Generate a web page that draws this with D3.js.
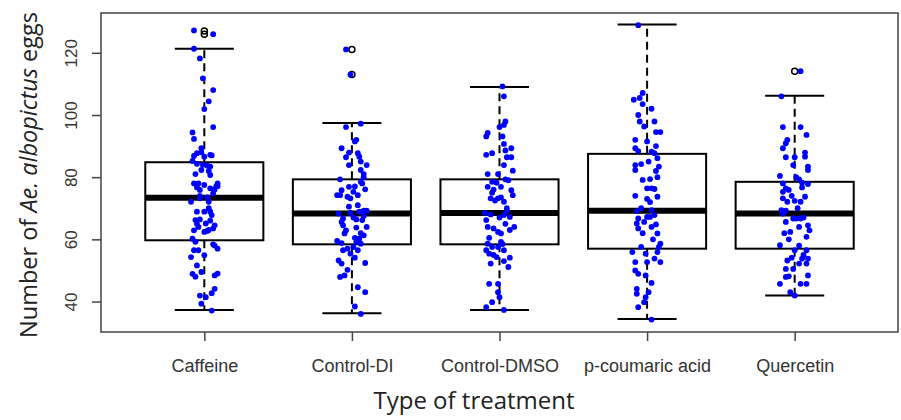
<!DOCTYPE html>
<html>
<head>
<meta charset="utf-8">
<script src="https://cdn.jsdelivr.net/npm/d3@7"></script>
<style>
  body { margin: 0; background: #fff; }
</style>
</head>
<body>
<div id="chart-container"></div>
<script>
// categories and box statistics
const categories = ["Caffeine", "Control-DI", "Control-DMSO", "p-coumaric acid", "Quercetin"];
const lowWhisker = [37.3, 36.2, 37.3, 34.4, 41.9];
const q1 = [59.7, 58.4, 58.4, 57.0, 57.0];
const medians = [73.4, 68.3, 68.5, 69.2, 68.3];
const q3 = [84.8, 79.3, 79.3, 87.5, 78.5];
const highWhisker = [121.3, 97.4, 109.0, 129.1, 106.2];
const outliers = [[126.0, 127.0], [113.0, 121.1], [], [], [114.1]];
const yTicks = [40, 60, 80, 100, 120];

// jittered points: [value, jitter offset in category units]
const caffeinePts = [
  [127.2,-0.07],[126.0,0.06],[121.3,-0.07],[118.2,-0.03],[111.8,-0.01],[108.0,0.06],[104.4,0.03],[101.9,0.00],
  [96.1,0.06],[94.4,-0.08],[92.3,-0.07],[89.3,-0.02],[87.7,-0.05],[86.8,-0.07],[86.6,0.00],[87.2,0.04],
  [85.2,-0.08],[84.3,-0.05],[83.7,0.02],[83.4,0.04],[82.3,-0.02],[81.0,-0.06],[80.7,0.04],[78.0,-0.07],
  [78.0,-0.04],[77.5,0.00],[78.0,0.09],[76.7,-0.05],[76.4,0.04],[75.9,-0.03],[77.1,0.09],[74.8,0.06],
  [72.1,-0.09],[73.2,-0.03],[72.1,0.03],[68.9,-0.05],[68.9,0.00],[68.9,0.04],[67.8,0.05],[66.2,-0.06],
  [66.4,-0.03],[65.1,0.01],[64.5,0.07],[62.9,-0.07],[62.4,0.00],[62.7,0.02],[63.5,0.06],[60.2,-0.08],
  [59.2,-0.06],[58.4,0.06],[57.0,0.09],[56.5,-0.07],[56.5,-0.04],[54.3,-0.09],[54.9,0.00],[51.6,-0.05],
  [49.5,-0.02],[48.9,-0.08],[48.4,0.07],[44.1,0.07],[42.7,0.05],[41.9,-0.03],[41.4,0.01],[39.3,-0.02],
  [37.1,0.05],[73.5,0.02],[76.0,0.07],[77.0,0.08],[66.0,0.04],[64.0,-0.04],[63.0,0.03],[48.0,-0.06],
  [49.0,0.09],[58.0,0.07],[82.0,0.03],[88.0,-0.02],[87.0,0.05],[84.0,-0.01],[65.0,-0.05],[70.0,0.03],
  [74.0,-0.03]
];
const controlDIPts = [
  [121.1,-0.04],[113.0,-0.01],[96.1,-0.04],[97.2,0.06],[92.0,0.03],[91.5,0.02],[89.3,-0.07],[87.9,-0.02],
  [87.7,0.04],[86.6,0.05],[86.4,-0.04],[83.9,0.10],[83.9,-0.02],[82.3,0.06],[81.0,0.08],[79.3,-0.08],
  [78.5,0.06],[78.0,0.07],[76.9,-0.02],[76.1,0.09],[75.8,-0.07],[75.3,0.01],[74.2,-0.10],[74.2,-0.08],
  [73.7,-0.03],[74.2,0.04],[73.2,-0.01],[68.3,-0.09],[68.5,-0.01],[68.9,0.05],[69.2,0.08],[69.2,0.10],
  [66.7,-0.06],[67.0,0.01],[66.4,0.03],[66.2,0.07],[65.6,-0.07],[64.0,0.10],[63.8,0.03],[62.9,-0.04],
  [61.9,-0.05],[61.3,0.08],[60.2,0.05],[59.5,-0.10],[58.8,-0.07],[59.2,0.03],[58.6,0.06],[57.5,0.01],
  [56.5,-0.06],[55.4,-0.01],[56.5,0.04],[54.1,0.02],[53.2,-0.09],[52.2,-0.07],[52.4,0.09],[50.2,-0.03],
  [47.9,-0.08],[48.4,-0.05],[44.6,0.04],[43.0,0.09],[38.4,0.02],[36.0,0.06],[70.5,-0.02],[67.5,0.08],
  [64.5,-0.06],[60.5,0.02],[57.0,-0.03],[62.0,0.06],[71.0,0.04],[77.0,0.02],[80.0,0.08],[85.0,0.06]
];
const controlDMSOPts = [
  [109.2,0.02],[106.0,0.03],[97.9,0.04],[96.8,0.03],[96.1,0.00],[94.2,-0.08],[93.1,-0.09],[93.1,0.02],
  [90.7,0.03],[89.3,0.08],[88.6,0.04],[87.2,-0.09],[87.7,-0.05],[86.4,0.05],[86.4,0.08],[83.9,0.03],
  [82.1,0.09],[81.0,-0.08],[81.0,-0.01],[79.3,0.04],[78.5,-0.05],[78.2,-0.02],[76.9,-0.08],[76.9,0.01],
  [75.8,0.08],[75.0,-0.05],[74.2,0.09],[73.2,-0.06],[73.2,-0.01],[73.5,0.01],[72.1,0.03],[69.2,0.05],
  [68.5,-0.10],[67.8,0.03],[67.0,0.00],[67.2,0.07],[66.2,-0.09],[64.0,0.10],[64.0,-0.08],[63.5,-0.04],
  [62.4,-0.01],[61.9,0.01],[59.2,0.01],[58.6,-0.08],[57.5,-0.05],[57.5,-0.01],[56.5,-0.09],[56.5,0.03],
  [55.4,-0.07],[54.3,-0.02],[54.1,0.07],[52.2,-0.06],[53.0,0.03],[51.1,0.06],[45.7,-0.07],[45.7,-0.01],
  [43.0,-0.01],[41.4,0.00],[39.8,-0.05],[38.2,-0.09],[37.3,0.03],[70.0,0.05],[72.5,-0.03],[65.0,0.04],
  [60.5,-0.07],[58.5,0.02],[79.0,0.06],[76.0,-0.04],[68.0,-0.06],[63.0,0.07],[55.0,-0.04]
];
const coumaricPts = [
  [128.9,-0.06],[107.1,-0.03],[104.9,-0.09],[105.5,-0.05],[103.5,-0.03],[102.0,0.03],[97.9,-0.05],[97.9,0.05],
  [96.3,-0.02],[94.5,0.06],[94.5,0.09],[92.0,-0.08],[91.5,0.00],[89.3,-0.08],[88.4,-0.06],[88.2,0.03],
  [87.7,0.05],[86.1,0.07],[83.9,-0.08],[84.2,-0.04],[83.4,0.08],[82.3,-0.08],[82.0,0.06],[79.1,-0.03],
  [79.4,0.02],[76.4,0.00],[76.4,0.03],[76.2,0.05],[74.0,-0.08],[73.0,0.00],[73.7,0.07],[69.4,0.03],
  [69.1,-0.07],[67.2,0.00],[67.2,0.02],[67.8,0.05],[66.7,-0.06],[65.6,-0.02],[64.0,0.03],[65.1,-0.07],
  [63.5,-0.06],[64.8,0.06],[61.9,0.07],[58.6,0.09],[57.6,0.08],[57.6,-0.04],[55.9,-0.10],[55.4,-0.01],
  [53.8,0.05],[52.7,0.09],[52.7,-0.08],[55.9,0.07],[52.7,0.00],[48.9,-0.06],[48.4,-0.01],[44.1,-0.07],
  [43.0,0.01],[42.5,-0.07],[41.4,-0.01],[39.8,-0.02],[38.2,-0.06],[34.2,0.03],[72.0,0.02],[70.0,-0.04],
  [60.0,0.04],[85.0,0.01],[90.0,0.06],[100.0,-0.06],[62.0,-0.03],[80.0,0.07],[46.0,0.03],[50.0,-0.08]
];
const quercetinPts = [
  [114.1,0.04],[106.0,-0.09],[96.1,-0.08],[96.1,0.04],[93.6,0.08],[92.0,-0.05],[90.9,-0.06],[89.3,-0.08],
  [87.9,0.07],[86.6,0.07],[86.4,-0.06],[86.4,0.00],[83.9,-0.01],[83.4,0.09],[82.3,0.09],[80.4,-0.10],
  [79.3,0.03],[78.0,-0.08],[78.2,0.05],[77.8,0.09],[76.4,-0.06],[75.3,-0.08],[75.9,-0.04],[76.7,0.05],
  [73.2,-0.08],[72.1,-0.05],[72.4,0.00],[72.1,0.04],[73.7,0.07],[69.4,-0.09],[69.2,-0.06],[66.7,-0.01],
  [68.3,-0.08],[66.7,0.01],[66.7,0.04],[65.6,-0.06],[64.0,0.03],[62.4,-0.03],[64.5,0.09],[62.9,0.10],
  [60.8,0.08],[58.1,-0.10],[56.5,0.00],[56.5,0.08],[54.1,-0.02],[53.2,-0.05],[52.2,0.03],[53.8,0.05],
  [53.8,0.09],[50.5,-0.06],[50.5,-0.01],[52.2,0.08],[48.1,-0.04],[47.9,-0.06],[48.4,0.09],[45.7,-0.10],
  [45.7,0.04],[45.7,0.08],[43.0,-0.03],[41.9,0.00],[70.0,0.02],[74.0,-0.02],[67.0,0.06],[60.0,-0.04],
  [58.0,0.03],[62.0,-0.07],[80.0,0.01],[55.0,0.06]
];
const pointSets = [caffeinePts, controlDIPts, controlDMSOPts, coumaricPts, quercetinPts];

const drawChart = () => {
  d3.select("#chart-container").selectAll("*").remove();

  const svgWidth = 901;
  const svgHeight = 420;
  const plot = { left: 101, right: 898, top: 13, bottom: 332 };

  // R-style positions: groups at 1..5, limits padded by 4%
  const xScale = d3.scaleLinear().domain([0.3, 5.7]).range([plot.left, plot.right]);
  const yScale = d3.scaleLinear().domain([30.2, 132.8]).range([plot.bottom, plot.top]);

  const svg = d3.select("#chart-container")
    .append("svg")
    .attr("width", svgWidth)
    .attr("height", svgHeight)
    .style("font-family", "'Liberation Sans', Arial, sans-serif");

  const boxHalf = (xScale(1.4) - xScale(1)) ;
  const capHalf = (xScale(1.2) - xScale(1));

  const groups = svg.selectAll("g.box")
    .data(categories)
    .join("g")
    .attr("class", "box")
    .attr("transform", (d, i) => `translate(${xScale(i + 1)},0)`);

  // dashed whiskers
  groups.append("line")
    .attr("y1", (d, i) => yScale(q3[i])).attr("y2", (d, i) => yScale(highWhisker[i]))
    .attr("stroke", "#000").attr("stroke-width", 2).attr("stroke-dasharray", "8,5");
  groups.append("line")
    .attr("y1", (d, i) => yScale(q1[i])).attr("y2", (d, i) => yScale(lowWhisker[i]))
    .attr("stroke", "#000").attr("stroke-width", 2).attr("stroke-dasharray", "8,5");

  // whisker caps
  groups.append("line")
    .attr("x1", -capHalf).attr("x2", capHalf)
    .attr("y1", (d, i) => yScale(highWhisker[i])).attr("y2", (d, i) => yScale(highWhisker[i]))
    .attr("stroke", "#000").attr("stroke-width", 2);
  groups.append("line")
    .attr("x1", -capHalf).attr("x2", capHalf)
    .attr("y1", (d, i) => yScale(lowWhisker[i])).attr("y2", (d, i) => yScale(lowWhisker[i]))
    .attr("stroke", "#000").attr("stroke-width", 2);

  // boxes
  groups.append("rect")
    .attr("x", -boxHalf)
    .attr("width", boxHalf * 2)
    .attr("y", (d, i) => yScale(q3[i]))
    .attr("height", (d, i) => yScale(q1[i]) - yScale(q3[i]))
    .attr("fill", "none")
    .attr("stroke", "#000")
    .attr("stroke-width", 2);

  // medians
  groups.append("line")
    .attr("x1", -boxHalf).attr("x2", boxHalf)
    .attr("y1", (d, i) => yScale(medians[i])).attr("y2", (d, i) => yScale(medians[i]))
    .attr("stroke", "#000").attr("stroke-width", 6);

  // outliers as open circles
  groups.selectAll("circle.out")
    .data((d, i) => outliers[i])
    .join("circle")
    .attr("class", "out")
    .attr("cy", d => yScale(d))
    .attr("r", 3)
    .attr("fill", "none")
    .attr("stroke", "#000")
    .attr("stroke-width", 1.5);

  // jittered points on top
  pointSets.forEach((pts, i) => {
    svg.append("g")
      .selectAll("circle")
      .data(pts)
      .join("circle")
      .attr("cx", d => xScale(i + 1 + d[1]))
      .attr("cy", d => yScale(d[0]))
      .attr("r", 2.9)
      .attr("fill", "#0000ff");
  });

  // frame
  svg.append("rect")
    .attr("x", plot.left).attr("y", plot.top)
    .attr("width", plot.right - plot.left).attr("height", plot.bottom - plot.top)
    .attr("fill", "none").attr("stroke", "#444").attr("stroke-width", 1.5);

  // y axis (R style, rotated labels)
  const yAxis = svg.append("g")
    .attr("transform", `translate(${plot.left},0)`)
    .call(d3.axisLeft(yScale).tickValues(yTicks).tickSize(9).tickFormat(d3.format("d")));
  yAxis.select(".domain").remove();
  yAxis.selectAll("line").attr("stroke", "#444").attr("stroke-width", 1.5);
  yAxis.selectAll("text")
    .attr("x", 0).attr("dy", 0).attr("y", 0)
    .attr("transform", "translate(-24,0) rotate(-90)")
    .attr("text-anchor", "middle")
    .style("font-size", "17px")
    .style("fill", "#333");

  // x axis
  const xAxis = svg.append("g")
    .attr("transform", `translate(0,${plot.bottom})`)
    .call(d3.axisBottom(xScale).tickValues([1, 2, 3, 4, 5]).tickSize(9).tickFormat(d => categories[d - 1]));
  xAxis.select(".domain").remove();
  xAxis.selectAll("line").attr("stroke", "#444").attr("stroke-width", 1.5);
  xAxis.selectAll("text")
    .attr("y", 40).attr("dy", 0)
    .style("font-size", "18px")
    .style("fill", "#333");

  // axis titles
  svg.append("text")
    .attr("x", 474).attr("y", 409)
    .attr("text-anchor", "middle")
    .style("font-family", "'Open Sans', 'Noto Sans', sans-serif")
    .style("font-size", "24px")
    .style("fill", "#222")
    .text("Type of treatment");

  const yTitle = svg.append("text")
    .attr("transform", "translate(37,175) rotate(-90)")
    .attr("text-anchor", "middle")
    .style("font-family", "'Open Sans', 'Noto Sans', sans-serif")
    .style("font-size", "23.5px")
    .style("fill", "#222");
  yTitle.append("tspan").text("Number of ");
  yTitle.append("tspan").style("font-style", "italic").text("Ae. albopictus");
  yTitle.append("tspan").text(" eggs");
};

drawChart();
</script>
</body>
</html>
